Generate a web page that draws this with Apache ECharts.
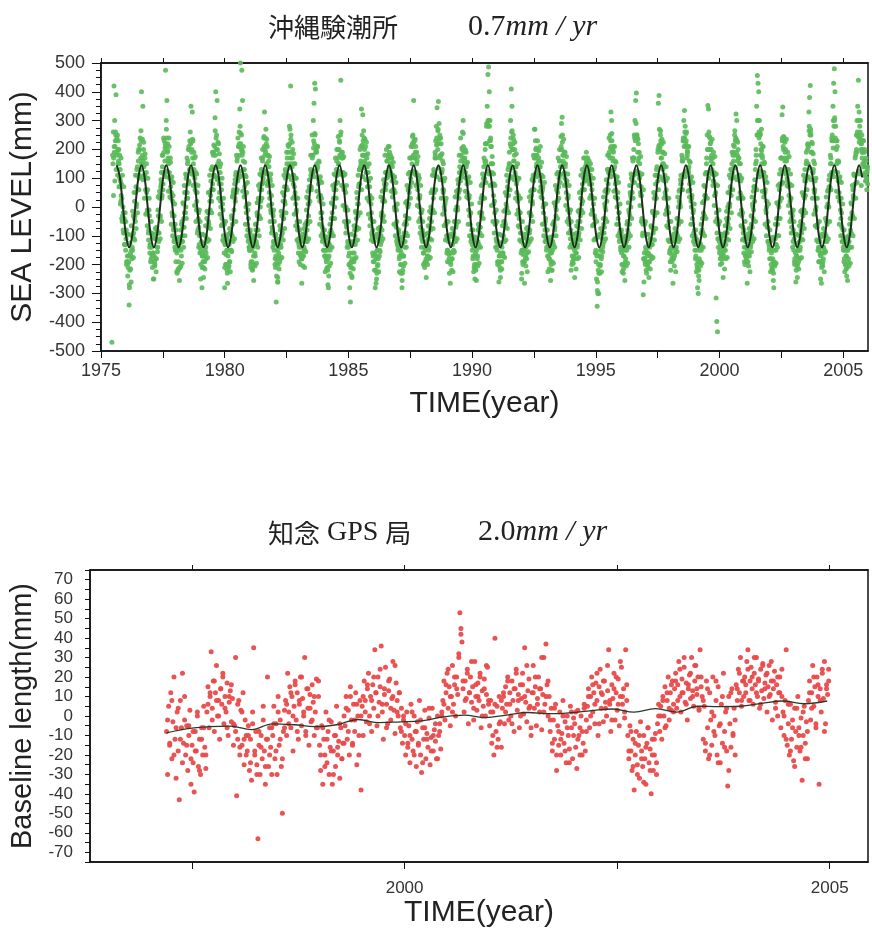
<!DOCTYPE html>
<html><head><meta charset="utf-8">
<script src="https://cdn.jsdelivr.net/npm/echarts@6/dist/echarts.min.js"></script>
<style>html,body{margin:0;padding:0;background:#fff}#c{width:872px;height:933px}</style>
</head><body><div id="c"></div>
<script>
// ---------- Panel 1: 沖縄験潮所 sea level (mm), 36 samples per year ----------
const tide1975 = [-470,180,260,420,300,230,390,180,250,150,200,70,130,20,80,-50,0,-90,-40,-130]; // starts at sample 16
const tide1976 = [-150,-80,-190,-240,-170,-340,-220,-160,-260,-100,-150,-30,-110,20,-50,70,10,140,60,200,110,240,170,400,150,350,200,110,170,60,120,-20,60,-90,-10,-140];
const tide1977 = [-130,-180,-90,-210,-160,-250,-190,-110,-180,-70,-140,-10,-90,40,-40,70,120,40,180,120,230,160,475,300,370,220,160,240,100,170,30,90,-30,40,-70,-110];
const tide1978 = [-60,-190,-120,-230,-150,-190,-110,-210,-80,-170,-50,-120,10,-70,50,-20,100,30,150,80,210,130,260,350,190,330,230,110,170,60,120,-10,50,-80,-20,-130];
const tide1979 = [-160,-250,-120,-280,-170,-210,-130,-190,-100,-160,-40,-120,-20,-60,50,-10,90,20,140,60,190,110,310,400,200,370,150,220,80,140,20,80,-40,10,-100,-50];
const tide1980 = [-280,-130,-200,-150,-230,-170,-120,-190,-90,-150,-30,-100,40,60,50,30,110,50,160,90,210,260,340,500,200,475,370,160,130,70,110,0,50,-60,-10,-110];
const tide1981 = [-140,-90,-200,-150,-190,-120,-170,-100,-160,-60,-120,-20,-80,30,-40,60,0,110,60,160,100,240,330,200,270,150,210,90,160,50,100,-10,40,-70,-20,-120];
const tide1982 = [-150,-100,-210,-330,-180,-260,-200,-130,-190,-80,-140,-30,-90,20,-40,70,10,120,60,170,110,210,150,270,420,190,140,200,80,150,40,100,-20,30,-80,-120];
const tide1983 = [-130,-80,-200,-140,-180,-110,-170,-120,-150,-60,-120,-10,-80,30,-30,70,20,130,70,180,120,300,360,430,410,200,150,210,100,160,40,90,-20,30,-70,-110];
const tide1984 = [-150,-100,-170,-130,-190,-150,-220,-280,-170,-90,-140,-40,-90,10,-40,60,0,110,60,160,110,200,150,230,300,440,190,120,170,70,110,0,50,-60,-10,-120];
const tide1985 = [-140,-200,-280,-330,-190,-240,-160,-120,-190,-80,-130,-20,-80,30,-30,70,130,200,160,340,250,320,180,240,160,210,120,170,70,120,20,70,-40,10,-90,-50];
const tide1986 = [-170,-120,-220,-280,-180,-250,-150,-200,-110,-170,-70,-130,-30,-80,20,-30,60,20,120,80,160,110,210,180,190,150,170,110,140,60,100,0,50,-60,-10,-110];
const tide1987 = [-130,-90,-180,-140,-200,-160,-280,-220,-170,-90,-140,-30,-90,20,-40,60,10,120,70,170,120,220,250,370,230,170,210,110,160,60,110,0,40,-70,-20,-110];
const tide1988 = [-120,-160,-100,-210,-150,-180,-120,-170,-90,-150,-40,-110,0,-50,60,-10,110,50,170,230,280,345,200,366,290,250,180,220,120,160,50,90,-10,20,-60,-100];
const tide1989 = [-150,-100,-190,-230,-160,-200,-130,-180,-100,-150,-50,-110,-10,-60,40,-10,80,30,140,90,180,120,260,300,190,160,200,100,150,50,100,-10,40,-60,-20,-110];
const tide1990 = [-130,-180,-110,-210,-250,-160,-200,-120,-170,-80,-130,-20,-70,30,-20,80,30,140,100,200,160,280,350,460,486,400,300,240,210,120,150,40,80,-20,-60,-110];
const tide1991 = [-140,-190,-120,-260,-170,-220,-130,-190,-100,-160,-50,-120,-10,-70,40,-10,90,40,150,100,300,410,350,200,250,160,200,110,140,50,100,-10,30,-70,-20,-120];
const tide1992 = [-250,-150,-200,-130,-190,-140,-170,-110,-160,-70,-120,-20,-80,20,-30,60,10,110,60,270,230,180,150,200,130,170,110,140,70,110,30,70,-20,10,-80,-40];
const tide1993 = [-120,-80,-170,-130,-180,-140,-160,-200,-220,-150,-100,-50,-80,10,-30,60,20,120,70,160,110,200,290,312,180,150,190,100,150,50,90,-10,40,-60,-10,-110];
const tide1994 = [-220,-130,-190,-120,-170,-150,-110,-160,-90,-140,-50,-100,-10,-50,30,-10,60,20,100,60,120,90,150,170,130,110,140,80,110,40,80,-10,30,-60,-30,-110];
const tide1995 = [-150,-250,-345,-300,-200,-170,-230,-150,-180,-90,-140,-40,-90,10,-40,60,20,130,80,180,130,250,330,300,200,160,210,110,160,60,100,0,50,-60,-20,-110];
const tide1996 = [-140,-90,-200,-150,-230,-170,-130,-190,-100,-150,-50,-110,-10,-60,50,0,100,50,160,110,250,300,370,396,250,190,220,120,150,50,70,-40,-100,-305,-260,-180];
const tide1997 = [-200,-150,-230,-170,-210,-130,-190,-110,-170,-70,-130,-20,-80,30,-20,80,30,140,90,360,387,200,250,170,220,150,190,100,140,50,90,-10,30,-70,-20,-120];
const tide1998 = [-150,-220,-120,-190,-140,-180,-110,-160,-90,-140,-40,-100,0,-50,60,0,110,60,170,230,300,335,280,220,260,180,210,120,160,60,100,0,40,-60,-10,-110];
const tide1999 = [-130,-180,-110,-200,-280,-300,-220,-150,-190,-90,-140,-40,-90,20,-30,70,30,150,250,352,340,200,240,170,200,130,170,90,120,40,80,-316,-398,-433,-60,-110];
const tide2000 = [-160,-180,-110,-170,-130,-160,-100,-150,-90,-130,-40,-90,0,-40,50,10,100,40,150,100,190,140,250,230,323,300,180,200,110,150,50,90,-10,30,-70,-110];
const tide2001 = [-140,-200,-120,-180,-140,-170,-110,-160,-90,-140,-30,-100,10,-40,70,20,130,200,350,457,430,400,300,250,220,270,180,210,120,150,50,90,-20,20,-70,-120];
const tide2002 = [-130,-180,-120,-200,-150,-220,-190,-280,-200,-110,-150,-40,-100,10,-40,60,20,130,80,320,347,200,240,160,200,130,170,90,130,40,80,-20,30,-70,-30,-120];
const tide2003 = [-150,-190,-130,-260,-170,-210,-150,-190,-100,-150,-50,-110,-10,-60,40,-10,90,40,150,100,200,150,330,380,422,250,190,220,120,160,50,90,-10,30,-70,-120];
const tide2004 = [-140,-190,-120,-250,-160,-200,-140,-180,-100,-150,-40,-100,0,-50,60,0,110,60,170,120,250,350,430,480,400,280,200,230,120,160,50,90,-10,30,-70,-120];
const tide2005 = [-140,-190,-130,-200,-170,-240,-150,-190,-100,-140,-40,-90,10,-30,60,30,110,80,180,250,300,350,440,330,280,300,220,250,200,230,150,190,120,160,100,130];
const tideRows = [[1975,16,tide1975],[1976,0,tide1976],[1977,0,tide1977],[1978,0,tide1978],[1979,0,tide1979],[1980,0,tide1980],[1981,0,tide1981],[1982,0,tide1982],[1983,0,tide1983],[1984,0,tide1984],[1985,0,tide1985],[1986,0,tide1986],[1987,0,tide1987],[1988,0,tide1988],[1989,0,tide1989],[1990,0,tide1990],[1991,0,tide1991],[1992,0,tide1992],[1993,0,tide1993],[1994,0,tide1994],[1995,0,tide1995],[1996,0,tide1996],[1997,0,tide1997],[1998,0,tide1998],[1999,0,tide1999],[2000,0,tide2000],[2001,0,tide2001],[2002,0,tide2002],[2003,0,tide2003],[2004,0,tide2004],[2005,0,tide2005]];

// in-between samples (half a step later)
const tideB1975 = [150,170,190,210,250,230,190,200,160,150,100,90,40,30,-30,-20,-90,-50,-130]; // starts at sample 17
const tideB1976 = [-110,-190,-170,-210,-190,-280,-170,-170,-150,-140,-100,-90,-40,-30,50,0,110,60,160,100,200,130,230,170,180,160,140,110,100,60,50,-10,-10,-80,-30,-130];
const tideB1977 = [-130,-140,-170,-160,-190,-170,-200,-110,-180,-80,-140,-30,-90,30,-30,80,30,140,80,190,120,220,210,240,190,170,150,120,100,70,50,-20,20,-80,-30,-140];
const tideB1978 = [-110,-150,-160,-130,-220,-140,-210,-120,-150,-120,-100,-70,-40,-20,50,0,110,50,160,90,200,130,220,230,200,170,150,130,100,80,50,20,-10,-40,-70,-100];
const tideB1979 = [-140,-150,-160,-170,-190,-190,-170,-150,-140,-110,-110,-70,-50,-20,20,40,60,130,80,180,110,210,180,240,140,200,100,160,50,120,0,60,-60,-10,-120,-60];
const tideB1980 = [-130,-200,-110,-220,-150,-210,-130,-190,-90,-150,-40,-60,50,-10,80,20,120,60,170,100,210,180,280,220,250,180,190,110,130,40,80,-20,10,-80,-40,-140];
const tideB1981 = [-150,-130,-190,-120,-220,-140,-200,-110,-170,-80,-130,-30,-80,20,-30,80,20,130,80,170,120,210,180,190,220,120,180,80,140,30,90,-20,10,-80,-30,-130];
const tideB1982 = [-120,-180,-170,-240,-150,-260,-160,-170,-140,-130,-100,-80,-30,-40,40,20,100,70,150,110,190,140,220,170,250,150,170,110,110,70,50,10,-10,-50,-70,-110];
const tideB1983 = [-140,-120,-170,-160,-180,-170,-170,-140,-150,-100,-110,-50,-60,10,10,60,70,110,120,170,180,230,220,250,190,190,130,140,80,90,20,40,-40,-20,-90,-80];
const tideB1984 = [-110,-170,-150,-180,-170,-210,-180,-240,-130,-150,-80,-100,-20,-40,30,30,80,80,130,120,170,150,200,180,250,180,170,110,120,60,60,-10,0,-70,-50,-130];
const tideB1985 = [-170,-160,-230,-210,-210,-180,-190,-130,-160,-100,-120,-40,-70,10,10,80,80,140,150,210,180,230,180,200,150,180,120,140,70,90,20,40,-40,-20,-100,-80];
const tideB1986 = [-120,-190,-160,-220,-170,-230,-150,-180,-120,-150,-70,-100,-20,-40,30,20,80,70,120,100,160,120,170,140,170,120,150,90,110,50,60,-10,0,-70,-50,-130];
const tideB1987 = [-140,-120,-170,-150,-200,-170,-230,-170,-170,-100,-120,-50,-60,10,0,60,50,120,100,170,150,210,180,230,170,190,120,150,80,90,30,30,-40,-20,-100,-80];
const tideB1988 = [-90,-160,-140,-190,-140,-190,-130,-170,-110,-140,-70,-80,-20,-20,50,30,120,110,180,170,240,220,270,220,240,170,180,120,130,60,60,0,10,-60,-50,-110];
const tideB1989 = [-150,-120,-180,-160,-190,-160,-180,-130,-160,-100,-120,-50,-70,0,0,60,50,120,100,160,130,200,170,210,150,170,120,140,80,90,30,30,-30,-20,-100,-80];
const tideB1990 = [-100,-170,-140,-200,-170,-220,-150,-180,-120,-140,-70,-90,-20,-30,40,30,100,90,160,150,220,220,290,280,300,230,230,150,150,80,80,10,20,-60,-50,-120];
const tideB1991 = [-150,-130,-190,-170,-210,-160,-190,-140,-160,-100,-120,-50,-60,10,0,70,60,140,150,220,210,260,200,220,160,180,120,140,80,90,20,40,-40,-20,-90,-90];
const tideB1992 = [-150,-190,-150,-190,-150,-180,-140,-180,-120,-130,-80,-90,-20,-30,40,20,100,90,170,170,200,140,180,130,160,110,140,90,110,50,60,0,10,-60,-50,-110];
const tideB1993 = [-140,-110,-170,-140,-180,-150,-190,-160,-190,-120,-130,-60,-70,0,-10,60,50,120,100,160,140,210,200,250,160,180,120,140,80,90,30,30,-40,-20,-90,-80];
const tideB1994 = [-130,-170,-140,-180,-140,-180,-130,-160,-110,-130,-70,-90,-20,-30,30,10,80,60,120,90,140,110,160,120,150,100,130,80,100,40,60,-10,10,-60,-40,-110];
const tideB1995 = [-160,-170,-260,-220,-230,-170,-200,-150,-170,-110,-130,-60,-70,0,-10,60,50,130,120,190,170,230,210,230,170,190,130,140,80,90,30,30,-40,-20,-90,-80];
const tideB1996 = [-100,-160,-140,-200,-170,-200,-150,-180,-120,-140,-80,-90,-20,-30,40,30,100,90,170,170,240,230,290,240,240,160,170,100,110,40,40,-50,-60,-180,-160,-190];
const tideB1997 = [-140,-190,-160,-200,-160,-190,-140,-170,-110,-130,-70,-90,-20,-30,40,30,110,110,200,210,270,210,230,170,190,130,150,90,110,40,60,-10,0,-70,-50,-120];
const tideB1998 = [-150,-140,-180,-140,-180,-140,-170,-120,-150,-90,-110,-40,-60,20,10,80,80,160,160,230,210,260,210,230,170,190,130,140,80,90,20,30,-40,-20,-90,-80];
const tideB1999 = [-100,-170,-150,-210,-190,-240,-180,-190,-130,-150,-80,-90,-20,-30,40,40,120,120,200,200,260,200,220,160,180,120,150,90,110,40,50,-20,-40,-110,-60,-120];
const tideB2000 = [-150,-130,-170,-140,-180,-140,-170,-120,-150,-90,-110,-50,-60,10,0,70,60,130,120,180,160,210,180,240,190,230,160,170,100,110,30,40,-30,-20,-90,-80];
const tideB2001 = [-110,-170,-140,-190,-150,-190,-130,-170,-110,-130,-60,-70,0,-10,70,70,150,160,250,250,300,240,250,180,200,150,170,110,120,50,60,-10,0,-70,-50,-120];
const tideB2002 = [-140,-120,-180,-160,-210,-180,-230,-190,-200,-130,-130,-60,-60,10,0,80,80,170,170,240,210,230,170,190,130,160,100,130,70,80,20,30,-40,-20,-90,-80];
const tideB2003 = [-110,-180,-160,-220,-170,-200,-150,-180,-120,-140,-80,-90,-20,-30,40,30,100,90,160,150,220,210,280,250,270,190,190,120,130,60,60,-10,0,-70,-60,-120];
const tideB2004 = [-150,-140,-190,-170,-210,-160,-190,-140,-160,-100,-120,-50,-60,10,0,70,70,150,150,230,230,300,280,310,240,230,150,160,90,100,20,30,-40,-20,-100,-80];
const tideB2005 = [-110,-180,-150,-200,-170,-210,-150,-180,-120,-140,-80,-90,-20,-30,40,30,110,110,190,190,260,250,300,240,260,200,220,170,190,140,160,110,140,90,120,80];
const tideRowsB = [[1975,17,tideB1975],[1976,0,tideB1976],[1977,0,tideB1977],[1978,0,tideB1978],[1979,0,tideB1979],[1980,0,tideB1980],[1981,0,tideB1981],[1982,0,tideB1982],[1983,0,tideB1983],[1984,0,tideB1984],[1985,0,tideB1985],[1986,0,tideB1986],[1987,0,tideB1987],[1988,0,tideB1988],[1989,0,tideB1989],[1990,0,tideB1990],[1991,0,tideB1991],[1992,0,tideB1992],[1993,0,tideB1993],[1994,0,tideB1994],[1995,0,tideB1995],[1996,0,tideB1996],[1997,0,tideB1997],[1998,0,tideB1998],[1999,0,tideB1999],[2000,0,tideB2000],[2001,0,tideB2001],[2002,0,tideB2002],[2003,0,tideB2003],[2004,0,tideB2004],[2005,0,tideB2005]];

// quarter-step samples (wider day-to-day scatter)
const tideC1975 = [40,210,90,260,130,240,110,230,70,180,10,170,-40,110,-80,70,-130,-20]; // starts at sample 18
const tideC1976 = [-50,-200,-95,-195,-95,-270,-125,-215,-65,-180,-15,-175,50,-115,110,-75,130,-20,190,60,215,105,265,150,235,95,225,30,185,-25,150,-65,100,-115,30,-160];
const tideC1977 = [-190,-50,-165,-105,-250,-95,-205,-75,-225,-90,-155,35,-120,55,-110,95,-50,180,60,240,115,205,105,270,125,195,55,210,35,155,-60,105,-100,85,-120,10];
const tideC1978 = [-150,-80,-225,-130,-215,-105,-255,-125,-205,-60,-195,15,-140,75,-100,115,-40,170,30,200,85,230,125,225,115,235,75,190,5,175,-50,115,-90,75,-140,-10];
const tideC1979 = [-50,-200,-95,-210,-95,-245,-125,-215,-65,-180,-15,-175,50,-115,110,-75,130,-20,190,60,215,105,265,135,250,95,225,30,185,-25,150,-65,100,-115,30,-160];
const tideC1980 = [-210,-50,-165,-105,-265,-95,-205,-75,-225,-90,-155,35,-120,55,-110,95,-50,180,60,240,115,220,105,255,125,195,55,210,35,155,-60,105,-100,85,-120,10];
const tideC1981 = [-150,-80,-210,-115,-215,-105,-255,-125,-205,-60,-195,15,-140,75,-100,115,-40,170,30,200,85,245,125,240,115,235,75,180,5,175,-50,115,-90,75,-140,-10];
const tideC1982 = [-50,-200,-95,-195,-110,-245,-125,-215,-65,-180,-15,-175,50,-115,110,-75,130,-20,190,60,215,105,280,135,235,95,225,30,185,-25,150,-65,100,-115,30,-160];
const tideC1983 = [-190,-50,-165,-105,-265,-95,-205,-75,-210,-90,-155,35,-120,55,-110,95,-50,180,60,250,115,205,105,255,125,195,55,210,35,155,-60,105,-100,85,-120,10];
const tideC1984 = [-150,-80,-225,-115,-215,-105,-270,-125,-205,-60,-195,15,-140,75,-100,115,-40,170,30,200,85,245,125,225,115,260,75,190,5,175,-50,115,-90,75,-140,-10];
const tideC1985 = [-50,-200,-120,-195,-95,-245,-125,-215,-65,-180,-15,-175,50,-115,110,-75,130,-20,210,60,215,105,265,135,235,95,225,30,185,-25,150,-65,100,-115,30,-160];
const tideC1986 = [-190,-50,-165,-105,-265,-95,-205,-75,-225,-90,-155,35,-120,55,-110,95,-50,180,60,200,115,180,105,210,125,180,55,170,35,155,-60,105,-100,85,-120,10];
const tideC1987 = [-150,-80,-225,-115,-230,-105,-255,-125,-205,-60,-195,15,-140,75,-100,115,-40,170,30,210,85,245,125,225,115,235,75,190,5,175,-50,100,-90,75,-140,-10];
const tideC1988 = [-50,-200,-95,-195,-95,-245,-125,-200,-65,-180,-15,-175,50,-115,110,-75,130,-20,190,60,215,105,265,135,235,95,240,30,185,-25,150,-65,100,-115,30,-160];
const tideC1989 = [-190,-50,-165,-105,-265,-95,-220,-75,-225,-90,-155,35,-120,55,-110,95,-50,180,60,240,115,205,105,255,125,195,55,190,35,155,-60,105,-100,85,-120,10];
const tideC1990 = [-150,-80,-225,-115,-215,-105,-255,-125,-205,-60,-195,15,-140,75,-100,115,-40,170,30,220,85,290,125,300,115,280,75,210,5,175,-50,115,-90,75,-140,-10];
const tideC1991 = [-50,-200,-95,-195,-95,-245,-125,-215,-65,-170,-15,-175,50,-115,110,-75,130,-20,190,60,240,105,265,135,235,95,225,30,185,-25,150,-65,100,-115,30,-160];
const tideC1992 = [-230,-50,-165,-105,-265,-95,-205,-75,-225,-90,-155,35,-120,55,-110,95,-50,180,60,270,115,205,105,230,125,195,55,210,35,155,-60,105,-100,85,-120,10];
const tideC1993 = [-150,-80,-225,-115,-215,-105,-255,-125,-220,-60,-195,15,-140,75,-100,115,-40,170,30,200,85,245,140,225,115,235,75,190,5,175,-50,115,-90,75,-140,-10];
const tideC1994 = [-50,-200,-95,-195,-95,-245,-125,-215,-65,-180,-15,-175,50,-115,110,-75,130,-20,170,60,170,105,190,135,170,95,160,30,150,-25,130,-65,100,-115,30,-160];
const tideC1995 = [-190,-50,-290,-105,-300,-95,-205,-75,-225,-90,-155,35,-120,55,-110,95,-50,180,60,240,115,205,105,255,125,195,55,210,35,155,-60,105,-100,85,-120,10];
const tideC1996 = [-150,-80,-225,-115,-215,-105,-255,-125,-205,-60,-195,15,-140,75,-100,115,-40,170,30,200,85,245,125,250,115,235,75,190,5,175,-50,115,-90,60,-180,-60];
const tideC1997 = [-50,-220,-95,-195,-95,-245,-125,-215,-65,-180,-15,-175,50,-115,110,-75,130,-20,190,60,215,105,265,135,235,95,225,30,185,-25,140,-65,100,-115,30,-160];
const tideC1998 = [-190,-50,-165,-105,-265,-95,-205,-75,-225,-90,-155,35,-120,55,-110,95,-50,180,60,240,115,240,105,255,125,195,55,210,35,155,-60,105,-100,85,-120,10];
const tideC1999 = [-150,-80,-225,-115,-215,-130,-255,-125,-205,-60,-195,15,-140,75,-100,115,-40,170,30,200,100,245,125,225,115,235,75,190,5,175,-50,115,-90,75,-140,-10];
const tideC2000 = [-50,-200,-95,-195,-95,-245,-140,-215,-65,-180,-15,-175,50,-115,110,-75,130,-20,190,60,215,105,265,135,235,95,225,30,170,-25,150,-65,100,-115,30,-160];
const tideC2001 = [-190,-50,-165,-105,-265,-95,-205,-75,-225,-90,-155,35,-120,55,-110,95,-50,180,60,300,115,260,105,255,125,195,55,210,35,155,-60,105,-100,85,-120,10];
const tideC2002 = [-150,-80,-225,-115,-215,-105,-255,-150,-205,-60,-195,15,-140,75,-100,115,-40,170,30,230,85,245,125,225,115,235,75,190,5,175,-50,115,-90,75,-140,-10];
const tideC2003 = [-50,-200,-95,-195,-95,-245,-125,-215,-65,-180,-15,-175,50,-115,110,-75,130,-20,190,60,215,105,265,135,260,95,225,30,185,-25,150,-65,100,-115,30,-150];
const tideC2004 = [-190,-50,-165,-105,-265,-95,-205,-75,-225,-90,-155,35,-120,55,-110,95,-50,180,60,240,115,205,105,300,125,230,55,210,35,155,-60,105,-100,85,-120,10];
const tideC2005 = [-150,-80,-225,-115,-215,-105,-255,-125,-205,-60,-195,15,-140,75,-100,115,-40,170,30,200,85,245,125,225,115,235,75,190,150,230,110,200,90,170,60,140];
const tideRowsC = [[1975,18,tideC1975],[1976,0,tideC1976],[1977,0,tideC1977],[1978,0,tideC1978],[1979,0,tideC1979],[1980,0,tideC1980],[1981,0,tideC1981],[1982,0,tideC1982],[1983,0,tideC1983],[1984,0,tideC1984],[1985,0,tideC1985],[1986,0,tideC1986],[1987,0,tideC1987],[1988,0,tideC1988],[1989,0,tideC1989],[1990,0,tideC1990],[1991,0,tideC1991],[1992,0,tideC1992],[1993,0,tideC1993],[1994,0,tideC1994],[1995,0,tideC1995],[1996,0,tideC1996],[1997,0,tideC1997],[1998,0,tideC1998],[1999,0,tideC1999],[2000,0,tideC2000],[2001,0,tideC2001],[2002,0,tideC2002],[2003,0,tideC2003],[2004,0,tideC2004],[2005,0,tideC2005]];
const tidePerYear = 36;

// fitted annual curve (black), sampled every 1/8 year from 1975.64
const tideFitStart = 1975.64, tideFitStep = 0.125;
const tideFit = [
145,103,0,-99,-140,-99,0,103, 145,103,0,-99,-140,-99,0,103, 145,103,0,-99,-140,-99,0,103,
145,103,0,-99,-140,-99,0,103, 145,103,0,-99,-140,-99,0,103, 145,103,0,-99,-140,-99,0,103,
145,103,0,-99,-140,-99,0,103, 145,103,0,-99,-140,-99,0,103, 145,103,0,-99,-140,-99,0,103,
145,103,0,-99,-140,-99,0,103, 145,103,0,-99,-140,-99,0,103, 145,103,0,-99,-140,-99,0,103,
145,103,0,-99,-140,-99,0,103, 145,103,0,-99,-140,-99,0,103, 145,103,0,-99,-140,-99,0,103,
145,103,0,-99,-140,-99,0,103, 145,103,0,-99,-140,-99,0,103, 145,103,0,-99,-140,-99,0,103,
145,103,0,-99,-140,-99,0,103, 145,103,0,-99,-140,-99,0,103, 145,103,0,-99,-140,-99,0,103,
145,103,0,-99,-140,-99,0,103, 145,103,0,-99,-140,-99,0,103, 145,103,0,-99,-140,-99,0,103,
145,103,0,-99,-140,-99,0,103, 145,103,0,-99,-140,-99,0,103, 145,103,0,-99,-140,-99,0,103,
145,103,0,-99,-140,-99,0,103, 145,103,0,-99,-140,-99,0,103, 145,103,0,-99,-140,-99,0,103,
145,103];

// ---------- Panel 2: 知念 GPS 局 baseline length (mm), 80 samples per year ----------
const gps1997 = [-8,-30,5,-15,12,-22,-3,20,-12,-32,2,-18,-43,8,-6,22,-14,-2,
 -20,-5,-28,-10,3,-35,-15,-24,-39,-8,-18,0,-26,-12,-30,-6,-20,5,-16,-27,
 2,15,-6,10,33,4,18,-8,12,26,0,8,-12,14,6,20,-4,10,2,17,-10,7,13,-3,9,-15]; // starts at sample 16
const gps1998 = [-5,30,-41,-12,8,-20,3,-15,12,-25,-2,-10,
 -18,-5,-28,-12,-33,2,35,-20,-8,-25,-63,-15,-30,-10,-22,5,-18,-35,-12,20,-26,-6,-16,-30,
 -10,5,-22,-4,-30,10,-15,-2,-26,-50,-8,3,
 8,-10,22,2,15,-6,10,-18,5,18,-2,12,-12,6,20,-5,9,0,30,-8,14,4,-15,11,-3,16,7,-10,2,19,-6,10];
const gps1999 = [-15,-28,-5,-35,-12,-20,2,-24,-8,-30,-16,-3,-35,-18,-10,-26,5,-20,-13,-32,-6,-22,-14,0,
 -5,10,-12,3,-20,15,-2,-15,6,-8,12,-25,0,-10,8,-38,
 5,-10,18,8,-3,14,22,0,10,-8,16,4,34,12,-5,20,7,15,36,2,-12,11,25,6,-4,13,19,-2,9,28,3,-9,17,8,0,12,
 -6,4,-14,-2];
const gps2000 = [-10,-20,2,-14,-5,-24,6,-12,-18,0,-8,-26,-3,-15,8,-20,-29,-6,-12,3,-22,-9,-16,-1,-25,-11,4,-18,-7,-13,-22,0,-10,-4,-17,2,
 8,18,-2,12,22,4,15,-5,10,26,6,16,0,20,11,30,53,45,38,14,2,18,9,24,-4,12,20,7,15,-2,28,10,3,17,8,22,-6,13,5,19,0,11,25,6];
const gps2001 = [-5,8,-14,2,-20,40,-8,5,-12,10,-3,-16,4,
 10,-4,15,6,20,-2,12,0,18,8,-8,14,24,3,11,-6,16,9,22,1,35,7,-3,13,19,5,-10,12,26,4,15,-5,9,20,2,14,-7,11,30,6,37,16,0,10,
 -8,4,-18,-2,-12,6,-28,-5,-15,2,-20,-9,8,-14,-3,-24,0,-10,-17,5,-6,-22,-1];
const gps2002 = [-4,-16,-27,3,-10,-20,0,-8,-14,6,-18,-2,
 5,14,-6,10,20,2,12,-4,17,8,-10,15,24,4,11,-3,18,7,0,13,34,6,-8,16,9,22,-2,12,3,19,-5,10,25,6,14,-1,34,8,
 -10,-22,-5,-18,-28,-12,-38,-20,-8,-25,-15,-32,-3,-18,-26,-10,-22,-35,-14,-6,-24,-17,-40,-12,-28,-20,-9,-30,
 -4,6];
const gps2003 = [-8,5,-12,10,0,15,-5,8,20,-2,12,3,18,6,
 14,22,4,16,28,10,2,19,12,25,7,17,-2,14,21,9,30,13,5,18,26,11,20,3,34,15,
 10,-12,5,-18,18,-6,-22,12,-2,-15,20,0,-10,8,-20,15,-5,-24,6,-14,22,-8,2,-18,-36,10,-4,-16,14,-9,4,-20,
 16,8,24,12,30,5,18,10];
const gps2004 = [20,12,28,34,8,18,25,14,6,22,16,30,10,19,4,24,13,27,9,17,21,2,15,26,11,18,-2,14,23,7,16,0,12,20,-6,10,
 2,-10,8,34,-15,-4,-20,6,-12,-2,-23,4,-8,-16,10,-6,-18,-1,-33,-10,5,-14,-3,-22,
 8,18,-2,12,26,5,15,-6,20,10,-35,14,2,22,9,28,-4,16,11,24];
const gpsRows = [[1997,16,gps1997],[1998,0,gps1998],[1999,0,gps1999],[2000,0,gps2000],[2001,0,gps2001],[2002,0,gps2002],[2003,0,gps2003],[2004,0,gps2004]];
const gpsPerYear = 80;

// extra in-between samples, 40 per year
const gpsB1997 = [-2,-14,8,-20,-6,4,-12,-24,10,-15,-5,-22,-8,-18,2,-28,-12,-6,-20,6,12,-2,18,8,0,14,22,4,-6,10,16,-4]; // starts at sample 8
const gpsB1998 = [-8,6,-16,2,-12,-20,-10,-24,-4,-18,-30,-8,-16,-2,-26,-12,-20,-6,-4,-18,2,-12,-22,-6,6,-4,12,0,16,-8,8,20,2,-10,14,4,-2,10,-6,18];
const gpsB1999 = [-20,-6,-26,-12,-2,-18,-30,-10,-16,-4,-22,-14,4,-8,10,-14,-2,6,-20,0,10,2,16,-4,8,20,12,0,24,6,14,-6,18,4,10,26,2,12,-8,0];
const gpsB2000 = [-4,-16,-10,2,-20,-8,-14,-2,-24,-6,-12,4,-18,-10,-4,-22,-8,0,6,16,24,10,2,20,14,32,42,18,8,22,12,28,4,16,10,20,0,14,26,8];
const gpsB2001 = [2,-10,6,-16,-4,8,12,2,18,6,-4,14,22,8,0,16,10,26,4,-6,12,20,6,14,30,2,10,18,-2,-14,4,-20,-8,-12,0,-18,-6,-24,2,-10];
const gpsB2002 = [2,-12,-6,-20,4,-8,10,0,16,6,22,-4,12,18,4,26,8,-2,14,20,6,28,10,2,16,-18,-8,-26,-14,-30,-10,-22,-34,-16,-6,-28,-20,-12,-24,0];
const gpsB2003 = [0,8,-6,12,4,16,2,18,8,24,12,30,6,16,22,10,26,14,4,20,8,-14,14,-20,2,-8,18,-24,-4,10,-16,4,-28,12,-10,-2,14,22,8,18];
const gpsB2004 = [16,24,8,20,30,12,18,6,26,14,22,10,28,18,4,20,12,24,0,-12,6,-18,-6,-26,4,-10,-16,2,-22,-8,12,4,20,-4,16,8,24,-8,14,18];
const gpsRowsB = [[1997,8,gpsB1997],[1998,0,gpsB1998],[1999,0,gpsB1999],[2000,0,gpsB2000],[2001,0,gpsB2001],[2002,0,gpsB2002],[2003,0,gpsB2003],[2004,0,gpsB2004]];
const gpsPerYearB = 40;

// trend curve (black)
const gpsFitYears = [1997.2,1997.45,1997.7,1997.95,1998.2,1998.45,1998.7,1998.95,1999.2,1999.45,1999.7,1999.95,2000.2,2000.45,2000.7,2000.95,2001.2,2001.45,2001.7,2001.95,2002.2,2002.45,2002.7,2002.95,2003.2,2003.45,2003.7,2003.95,2004.2,2004.45,2004.7,2004.97];
const gpsFit = [-8.7,-6.5,-5.5,-5.2,-7,-4,-4.5,-5.5,-4.5,-1.8,-3.4,-3,-2.5,-0.5,0.5,-0.8,0.5,1.8,1.2,1.7,2.8,3.6,2,3.8,2,5,4.8,5,6.5,7.7,6.3,7.7];

// tick labels
const topYearTicks = [1975,1977.5,1980,1982.5,1985,1987.5,1990,1992.5,1995,1997.5,2000,2002.5,2005];
const topYearLabels = [1975,1980,1985,1990,1995,2000,2005];
const botYearTicks = [1997.5,2000,2002.5,2005];
const botYearLabels = [2000,2005];
const gpsYLabels = [-70,-60,-50,-40,-30,-20,-10,0,10,20,30,40,50,60,70];

// ---------- build ----------
function rowsToPoints(rows, perYear, shift){
  const out = [];
  rows.forEach(([yr,k0,arr]) => arr.forEach((v,i) => out.push([yr + (k0+i+shift)/perYear, v])));
  return out;
}
const tidePts = rowsToPoints(tideRowsC, tidePerYear, 0.25)
  .concat(rowsToPoints(tideRows, tidePerYear, 0))
  .concat(rowsToPoints(tideRowsB, tidePerYear, 0.5));
const gpsPts = rowsToPoints(gpsRows, gpsPerYear, 0).concat(rowsToPoints(gpsRowsB, gpsPerYearB, 0.5));
const tideFitPts = tideFit.map((v,i) => [tideFitStart + i*tideFitStep, v]);
const gpsFitPts = gpsFit.map((v,i) => [gpsFitYears[i], v]);

const FONT = 'Liberation Sans, Arial, sans-serif';
const black = {color:'#111', width:1.5};
const plain = v => String(v);
const tickLbl = {fontSize:18, color:'#333', fontFamily:FONT, formatter:plain};

const chart = echarts.init(document.getElementById('c'), null, {renderer:'canvas'});
chart.setOption({
  backgroundColor:'#fff',
  animation:false,
  grid:[
    {left:94, right:4, top:63, height:288, show:true, borderColor:'#111', borderWidth:1.5, backgroundColor:'#fff'},
    {left:90, right:4, top:570, height:292, show:true, borderColor:'#111', borderWidth:1.5, backgroundColor:'#fff'}
  ],
  xAxis:[
    {gridIndex:0, type:'value', min:1975, max:2006,
     axisLine:{onZero:false, lineStyle:black}, splitLine:{show:false},
     axisTick:{customValues:topYearTicks, length:7, lineStyle:{color:'#111'}},
     axisLabel:{...tickLbl, customValues:topYearLabels, margin:11},
     name:'TIME(year)', nameLocation:'middle', nameGap:38,
     nameTextStyle:{fontSize:30, color:'#222', fontFamily:FONT}},
    {gridIndex:0, type:'value', position:'top', min:1975, max:2006,
     axisLine:{onZero:false, lineStyle:black}, splitLine:{show:false},
     axisTick:{customValues:topYearTicks, length:5, lineStyle:{color:'#111'}},
     axisLabel:{show:false}},
    {gridIndex:1, type:'value', min:1996.3, max:2005.45,
     axisLine:{onZero:false, lineStyle:black}, splitLine:{show:false},
     axisTick:{customValues:botYearTicks, length:7, lineStyle:{color:'#111'}},
     axisLabel:{...tickLbl, fontSize:17, customValues:botYearLabels, margin:18},
     name:'TIME(year)', nameLocation:'middle', nameGap:36,
     nameTextStyle:{fontSize:30, color:'#222', fontFamily:FONT}},
    {gridIndex:1, type:'value', position:'top', min:1996.3, max:2005.45,
     axisLine:{onZero:false, lineStyle:black}, splitLine:{show:false},
     axisTick:{customValues:botYearTicks, length:5, lineStyle:{color:'#111'}},
     axisLabel:{show:false}}
  ],
  yAxis:[
    {gridIndex:0, type:'value', min:-500, max:500, interval:100,
     axisLine:{show:true, onZero:false, lineStyle:black}, splitLine:{show:false},
     axisTick:{show:true, length:9, lineStyle:{color:'#111'}},
     minorTick:{show:true, splitNumber:4, length:5, lineStyle:{color:'#111'}},
     axisLabel:{...tickLbl, margin:16},
     name:'SEA LEVEL(mm)', nameLocation:'middle', nameGap:52,
     nameTextStyle:{fontSize:30, color:'#222', fontFamily:FONT}},
    {gridIndex:1, type:'value', min:-75, max:75, interval:5,
     axisLine:{show:true, onZero:false, lineStyle:black}, splitLine:{show:false},
     axisTick:{show:true, length:5, lineStyle:{color:'#111'}},
     axisLabel:{...tickLbl, fontSize:17, customValues:gpsYLabels, margin:17},
     name:'Baseline length(mm)', nameLocation:'middle', nameGap:46,
     nameTextStyle:{fontSize:29, color:'#222', fontFamily:FONT}}
  ],
  series:[
    {type:'scatter', xAxisIndex:0, yAxisIndex:0, data:tidePts, symbolSize:5,
     itemStyle:{color:'#5aba5a', opacity:0.9}, silent:true},
    {type:'line', xAxisIndex:0, yAxisIndex:0, data:tideFitPts, showSymbol:false, smooth:0.4,
     lineStyle:{color:'#1c2f1c', width:2}, silent:true, z:5},
    {type:'scatter', xAxisIndex:2, yAxisIndex:1, data:gpsPts, symbolSize:5,
     itemStyle:{color:'#e84a4a', opacity:0.95}, silent:true},
    {type:'line', xAxisIndex:2, yAxisIndex:1, data:gpsFitPts, showSymbol:false, smooth:0.4,
     lineStyle:{color:'#2a3a2a', width:1.3}, silent:true, z:5}
  ],
  graphic:[
    {type:'text', left:268, top:14, style:{text:'沖縄験潮所', font:'26px "Noto Sans CJK JP"', fill:'#222'}},
    {type:'text', left:468, top:12, style:{
      text:'{n|0.7}{i|mm / yr}',
      rich:{n:{fontSize:30, fontFamily:'Liberation Serif', fill:'#222'},
            i:{fontSize:30, fontFamily:'Liberation Serif', fontStyle:'italic', fill:'#222'}}}},
    {type:'text', left:268, top:519, style:{
      text:'{c|知念}{l| GPS }{c|局}',
      rich:{c:{fontSize:26, fontFamily:'Noto Sans CJK JP', fill:'#222'},
            l:{fontSize:28, fontFamily:'Liberation Serif', fill:'#222'}}}},
    {type:'text', left:478, top:517, style:{
      text:'{n|2.0}{i|mm / yr}',
      rich:{n:{fontSize:30, fontFamily:'Liberation Serif', fill:'#222'},
            i:{fontSize:30, fontFamily:'Liberation Serif', fontStyle:'italic', fill:'#222'}}}}
  ]
});
</script>
</body></html>
